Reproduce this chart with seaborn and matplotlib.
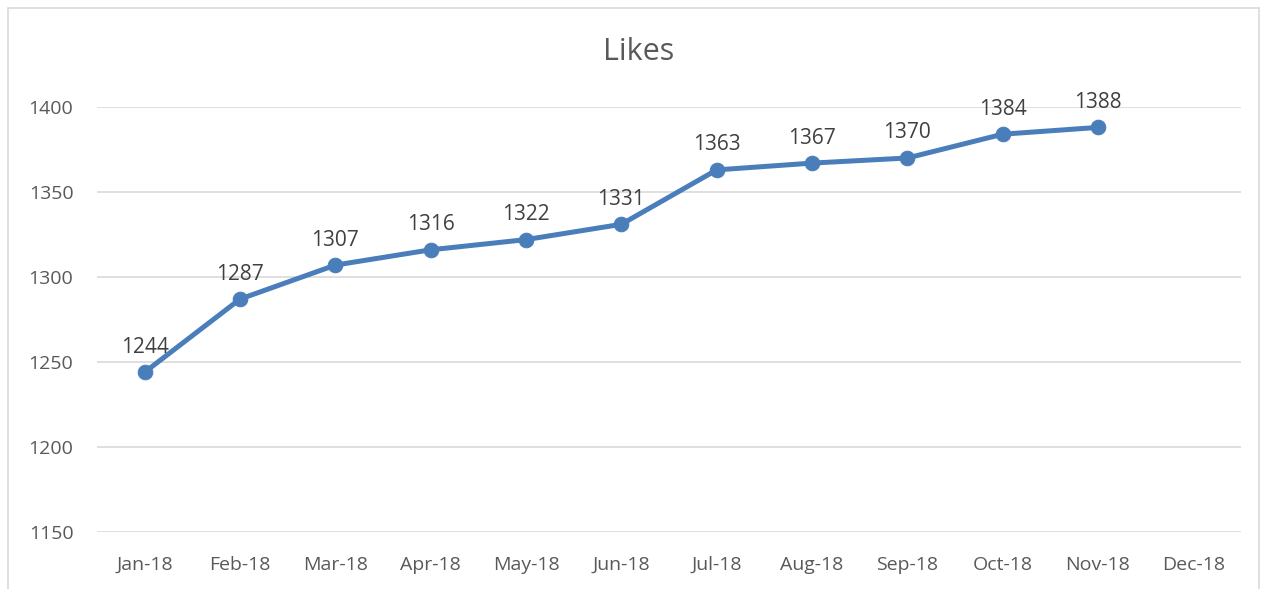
import matplotlib
matplotlib.use("Agg")
import matplotlib.pyplot as plt
import seaborn as sns
import pandas as pd
import numpy as np
from matplotlib.patches import Rectangle

# data
months = ['Jan-18', 'Feb-18', 'Mar-18', 'Apr-18', 'May-18', 'Jun-18',
          'Jul-18', 'Aug-18', 'Sep-18', 'Oct-18', 'Nov-18', 'Dec-18']
likes = [1244, 1287, 1307, 1316, 1322, 1331, 1363, 1367, 1370, 1384, 1388]
y_ticks = [1150, 1200, 1250, 1300, 1350, 1400]

df = pd.DataFrame({'pos': np.arange(len(likes)), 'likes': likes})

sns.set_style("white")
plt.rcParams['font.family'] = ['Open Sans', 'DejaVu Sans']

W, H = 1263, 589
fig = plt.figure(figsize=(W / 100, H / 100), dpi=100)
ax = fig.add_axes([97 / W, 1 - 532 / H, (1241 - 97) / W, (532 - 107) / H])

line_col = '#4a7ebb'
text_col = '#595959'

sns.lineplot(data=df, x='pos', y='likes', ax=ax, color=line_col,
             linewidth=3.6, marker='o', markersize=10.5,
             markeredgecolor=line_col, markerfacecolor=line_col)

for x, v in zip(df['pos'], df['likes']):
    ax.annotate(str(v), (x, v), xytext=(0, 10.5), textcoords='offset points',
                ha='center', va='bottom', fontsize=15, color='#404040')

ax.set_xlim(-0.5, len(months) - 0.5)
ax.set_ylim(1150, 1400)
ax.set_xticks(range(len(months)))
ax.set_xticklabels(months)
ax.set_yticks(y_ticks)
ax.tick_params(axis='both', length=0, labelsize=14, colors=text_col)
ax.tick_params(axis='x', pad=17)
ax.tick_params(axis='y', pad=17)
ax.grid(axis='y', color='#d9d9d9', linewidth=1.2)
ax.set_axisbelow(True)
for s in ax.spines.values():
    s.set_visible(False)
ax.set_xlabel('')
ax.set_ylabel('')

fig.text(639 / W, 1 - 52 / H, 'Likes', ha='center', va='center',
         fontsize=22, color=text_col)

# light frame around the chart area
fig.patches.append(Rectangle((8 / W, -0.05), (1259 - 8) / W, 1.05 - 8 / H,
                             transform=fig.transFigure, fill=False,
                             edgecolor='#d9d9d9', linewidth=1.2))

fig.savefig('out.png', dpi=100)
